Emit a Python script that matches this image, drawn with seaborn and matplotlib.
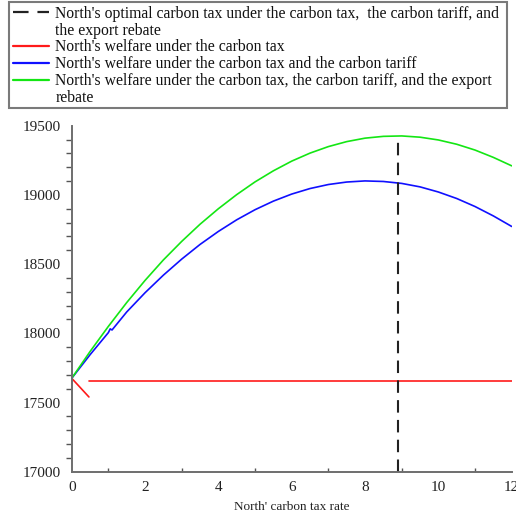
import numpy as np
import pandas as pd
import matplotlib
matplotlib.use("Agg")
import matplotlib.pyplot as plt
from matplotlib.lines import Line2D
from matplotlib.patches import Rectangle
from matplotlib.ticker import MultipleLocator
import seaborn as sns

# North's carbon tax rate grid
tax_rate = [0, 0.5, 1, 1.5, 2, 2.5, 3, 3.5, 4, 4.5, 5, 5.5, 6, 6.5,
            7, 7.5, 8, 8.5, 9, 9.5, 10, 10.5, 11, 11.5, 12]

# welfare under carbon tax + carbon tariff + export rebate
welfare_tax_tariff_rebate = [17675, 17868, 18050, 18222, 18382, 18530, 18664,
                             18788, 18900, 19002, 19094, 19174, 19244, 19302,
                             19349, 19385, 19410, 19423, 19426, 19417, 19397,
                             19366, 19324, 19271, 19210]

# welfare under carbon tax + carbon tariff (small kink near 1.05)
tariff_rate = [0, 0.5, 1, 1.05, 1.1, 1.5, 2, 2.5, 3, 3.5, 4, 4.5, 5, 5.5, 6,
               6.5, 7, 7.5, 8, 8.5, 9, 9.5, 10, 10.5, 11, 11.5, 12]
welfare_tax_tariff = [17675, 17845, 18005, 18032, 18024, 18154, 18293, 18420,
                      18536, 18642, 18736, 18820, 18893, 18955, 19006, 19046,
                      19075, 19093, 19101, 19097, 19083, 19058, 19021, 18974,
                      18916, 18848, 18772]

# welfare under the carbon tax alone: initial drop, then flat
tax_only_drop_x = [0, 0.47]
tax_only_drop_y = [17675, 17540]
tax_only_flat_x = [0.48, 12]
tax_only_flat_y = [17657, 17657]

# optimal carbon tax under tax + tariff + rebate
optimal_tax = 8.9
optimal_welfare = 19400

legend_labels = [
    "North's optimal carbon tax under the carbon tax,  the carbon tariff, and",
    "the export rebate",
    "North's welfare under the carbon tax",
    "North's welfare under the carbon tax and the carbon tariff",
    "North's welfare under the carbon tax, the carbon tariff, and the export",
    "rebate",
]
x_ticks = [0, 2, 4, 6, 8, 10, 12]
y_ticks = [17000, 17500, 18000, 18500, 19000, 19500]

sns.set_style("white")
plt.rcParams["font.family"] = ["Liberation Serif", "DejaVu Serif"]

RED = "#ff1a1a"
BLUE = "#1010ff"
GREEN = "#14e614"
DASH = "#222222"

W, H = 516, 515
fig = plt.figure(figsize=(W / 100, H / 100), dpi=100)
ax = fig.add_axes([71.7 / W, 43.3 / H, 440 / W, 346 / H])

df_green = pd.DataFrame({"x": tax_rate, "y": welfare_tax_tariff_rebate})
df_blue = pd.DataFrame({"x": tariff_rate, "y": welfare_tax_tariff})
df_red1 = pd.DataFrame({"x": tax_only_drop_x, "y": tax_only_drop_y})
df_red2 = pd.DataFrame({"x": tax_only_flat_x, "y": tax_only_flat_y})

lw = 1.2
sns.lineplot(data=df_red1, x="x", y="y", ax=ax, color=RED, lw=lw, sort=False)
sns.lineplot(data=df_red2, x="x", y="y", ax=ax, color=RED, lw=lw, sort=False)
sns.lineplot(data=df_blue, x="x", y="y", ax=ax, color=BLUE, lw=lw, sort=False)
sns.lineplot(data=df_green, x="x", y="y", ax=ax, color=GREEN, lw=lw, sort=False)
ax.plot([optimal_tax, optimal_tax], [17000, optimal_welfare], color=DASH,
        lw=1.5, dashes=(6, 3.5), clip_on=False)

ax.set_xlim(0, 12)
ax.set_ylim(17000, 19500)
ax.set_xticks(x_ticks)
ax.set_yticks(y_ticks)
ax.xaxis.set_minor_locator(MultipleLocator(1))
ax.yaxis.set_minor_locator(MultipleLocator(100))
ax.set_xticklabels([str(t) for t in x_ticks])
ax.set_yticklabels([str(t) for t in y_ticks])

for side in ["top", "right"]:
    ax.spines[side].set_visible(False)
for side in ["left", "bottom"]:
    ax.spines[side].set_color("#6e6e6e")
    ax.spines[side].set_linewidth(1.4)

ax.tick_params(axis="y", which="major", direction="out", length=5, width=1.2,
               color="#555555", labelsize=11, labelcolor="#222222", pad=3)
ax.tick_params(axis="y", which="minor", direction="out", length=4, width=1.0,
               color="#555555", left=True)
ax.tick_params(axis="x", which="major", direction="inout", length=5, width=1.2,
               color="#555555", labelsize=11, labelcolor="#222222", pad=4)
ax.tick_params(axis="x", which="minor", direction="in", length=3, width=1.0,
               color="#555555", bottom=True)

ax.set_xlabel("North' carbon tax rate", fontsize=9.5, color="#222222", labelpad=5)
ax.set_ylabel("")

blank = Line2D([], [], color="none")
handles = [
    Line2D([], [], color=DASH, lw=1.6, dashes=(7, 4)),
    blank,
    Line2D([], [], color=RED, lw=1.6),
    Line2D([], [], color=BLUE, lw=1.6),
    Line2D([], [], color=GREEN, lw=1.6),
    blank,
]
leg = fig.legend(handles, legend_labels, loc="upper left",
                 bbox_to_anchor=(6 / W, 1 - 4 / H, 500 / W, 0.01),
                 mode="expand", fontsize=11.3, frameon=False,
                 handlelength=2.3, handletextpad=0.4, labelspacing=0.05,
                 borderpad=0.45, borderaxespad=0)
for t in leg.get_texts():
    t.set_color("#111111")

# legend border box
fig.patches.append(Rectangle((9 / W, 1 - 108 / H), 498 / W, 106 / H,
                             transform=fig.transFigure, fill=False,
                             edgecolor="#7a7a7a", linewidth=1.5))

fig.savefig("out.png", dpi=100)
